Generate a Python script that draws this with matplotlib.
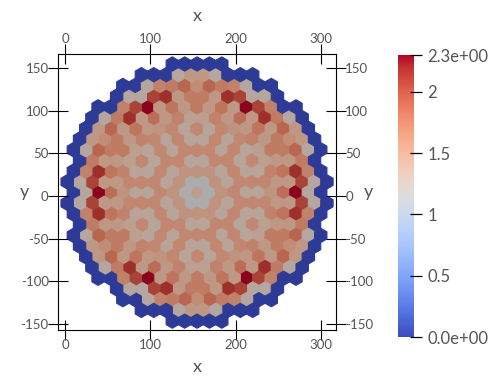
import numpy as np
import matplotlib
matplotlib.use("Agg")
import matplotlib.pyplot as plt
from matplotlib.collections import PolyCollection
from matplotlib.colors import ListedColormap, Normalize
from matplotlib.cm import ScalarMappable

plt.rcParams['font.family'] = ['Lato', 'DejaVu Sans']
plt.rcParams['axes.unicode_minus'] = False

W, H = 492, 388
nan = float('nan')

# value of each ring of the lattice, read from corner to mid-side,
# the other cells of a ring repeat it by the six-fold symmetry of the map
ring_0 = [1.38]
ring_1 = [1.15]
ring_2 = [1.5, 1.5]
ring_3 = [1.6, 1.3]
ring_4 = [1.3, 1.6, 1.6]
ring_5 = [1.3, 1.6, 1.3]
ring_6 = [1.5, 1.6, 1.3, 1.6]
ring_7 = [1.8, 1.45, 1.65, 1.35]
ring_8 = [2.3, 1.45, 1.75, 1.45, 1.7]
ring_9 = [1.25, 2.05, 2.15, 1.45, 1.7]
ring_10 = [0.0, 1.25, 1.65, 1.7, 1.85, 1.55]
ring_11 = [nan, 0.0, 0.0, 0.0, 1.25, 1.45]
ring_12 = [nan, nan, nan, nan, 0.0, 0.0, 0.0]
rings = [ring_0, ring_1, ring_2, ring_3, ring_4, ring_5, ring_6,
         ring_7, ring_8, ring_9, ring_10, ring_11, ring_12]

x_ticks = [0, 100, 200, 300]
y_ticks = [-150, -100, -50, 0, 50, 100, 150]
bar_ticks = [0, 0.5, 1, 1.5, 2, 2.3]
bar_labels = ["0.0e+00", "0.5", "1", "1.5", "2", "2.3e+00"]
vmin, vmax = 0, 2.3

# hexagon lattice in data units
pitch = 14.5
cx, cy = 154.8, 4.1

def cell_list():
    dirs = [np.array([np.cos(np.radians(180 - 60 * i)), np.sin(np.radians(180 - 60 * i))]) for i in range(7)]
    centres, vals = [[cx, cy]], [rings[0][0]]
    for r in range(1, len(rings)):
        for i in range(6):
            for q in range(r):
                v = rings[r][min(q, r - q)]
                if np.isnan(v):
                    continue
                pos = r * dirs[i] + q * (dirs[i + 1] - dirs[i])
                centres.append([cx + pitch * pos[0], cy + pitch * pos[1]])
                vals.append(v)
    return np.array(centres), np.array(vals)

centres, vals = cell_list()
rad = pitch / np.sqrt(3)
ang = np.radians(np.arange(6) * 60 + 30)
hexagon = np.c_[rad * np.cos(ang), rad * np.sin(ang)]
polys = [c + hexagon for c in centres]

fig = plt.figure(figsize=(W / 100, H / 100), dpi=100)

def axes_px(left, top, right, bottom):
    return fig.add_axes([left / W, 1 - bottom / H, (right - left) / W, (bottom - top) / H])

ax = axes_px(58, 54, 336, 330)
ax.set_xlim(-8.2, 317.7)
ax.set_ylim(-157, 166.5)

# the cells are lit in the original, so they are darker than the colour bar
base = plt.get_cmap('coolwarm')(np.linspace(0, 1, 256))[:, :3]
shaded = ListedColormap(base * 0.78)
norm = Normalize(vmin, vmax)
coll = PolyCollection(polys, array=vals, cmap=shaded, norm=norm, edgecolors='face', linewidths=0.8)
ax.add_collection(coll)

text_col = '#555555'
px = 0.72
ax.set_xticks(x_ticks)
ax.set_yticks(y_ticks)
ax.tick_params(axis='both', which='major', direction='inout', length=20 * px, width=0.8,
               top=True, bottom=True, left=True, right=True,
               labeltop=True, labelbottom=True, labelleft=True, labelright=True,
               labelsize=9.5, labelcolor=text_col)
ax.tick_params(axis='x', pad=-1)
ax.tick_params(axis='y', pad=-0.5)
for s in ax.spines.values():
    s.set_linewidth(0.8)

fig.text(197 / W, 1 - 16 / H, "x", ha='center', va='center', fontsize=13, color=text_col)
fig.text(197 / W, 1 - 367 / H, "x", ha='center', va='center', fontsize=13, color=text_col)
fig.text(24 / W, 1 - 192 / H, "y", ha='center', va='center', fontsize=13, color=text_col)
fig.text(368 / W, 1 - 192 / H, "y", ha='center', va='center', fontsize=13, color=text_col)

cax = axes_px(398, 55, 414, 337)
sm = ScalarMappable(norm=norm, cmap='coolwarm')
cb = fig.colorbar(sm, cax=cax)
cb.outline.set_visible(False)
cb.set_ticks(bar_ticks, labels=bar_labels)
cax.spines['right'].set_position(('outward', -4 * px))
cax.tick_params(axis='y', length=12 * px, width=0.9, labelsize=12, labelcolor=text_col, pad=4)

fig.savefig("out.png", dpi=100)
